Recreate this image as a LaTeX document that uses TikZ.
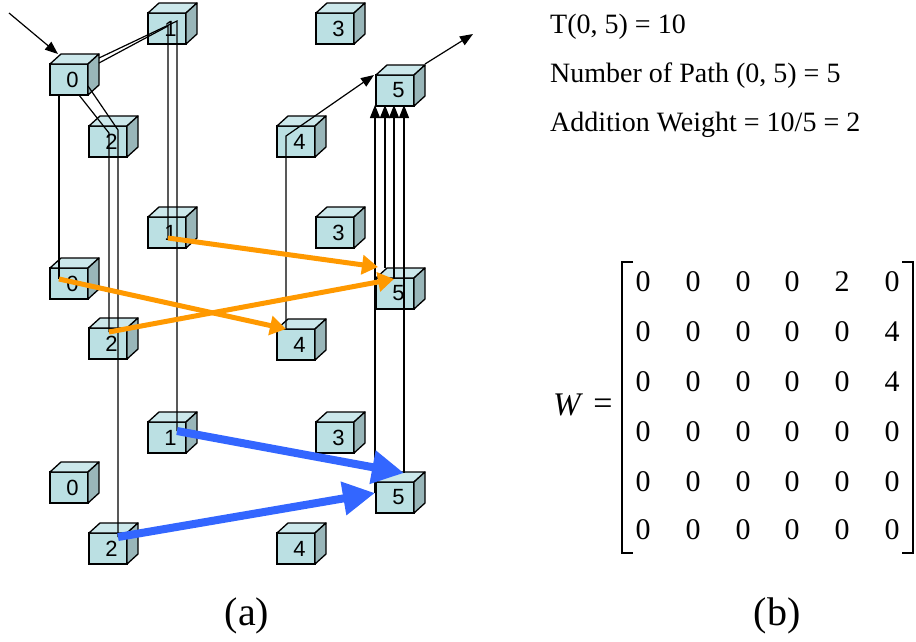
\documentclass[tikz,border=0pt]{standalone}
\usepackage{fontspec}
\setmainfont{Liberation Serif}
\newfontfamily\timesface{Liberation Serif}
\newfontfamily\cubefont{Liberation Sans}
\usetikzlibrary{arrows.meta}
\definecolor{cubefront}{HTML}{BBE0E3}
\definecolor{cubetop}{HTML}{CCE8EB}
\definecolor{cubeside}{HTML}{99B6B9}
\definecolor{flowA}{HTML}{FF9900}
\definecolor{flowB}{HTML}{3366FF}

\begin{document}
\begin{tikzpicture}[x=1pt,y=-1pt,
  cube/.style={draw=black, line width=1.3pt, fill=cubefront, minimum width=38pt,
    minimum height=31pt, inner sep=0pt, outer sep=0pt,
    font=\cubefont\fontsize{22}{22}\selectfont},
  face/.style={draw=black, line width=1.3pt, line join=round},
  wire/.style={draw=black, line width=1.2pt, line join=miter},
  wirearrow/.style={wire, -{Triangle[length=13pt,width=10pt]}},
  flowa/.style={draw=flowA, line width=5pt, -{Triangle[length=16pt,width=19pt]}},
  flowb/.style={draw=flowB, line width=8pt, -{Triangle[length=32pt,width=32pt]}},
  txt/.style={font=\timesface\fontsize{28}{32}\selectfont, anchor=base west, inner sep=0pt},
  entry/.style={font=\timesface\fontsize{30}{30}\selectfont, inner sep=0pt, anchor=center},
  captext/.style={font=\timesface\fontsize{40}{40}\selectfont, inner sep=0pt, anchor=base},
]
\path[use as bounding box] (0,0) rectangle (916,641);

% ---------- (a) three time layers of cubes ----------
\node[cube] (a0) at (69,79.5)  {\hspace*{7pt}0};
\node[cube] (a1) at (167,28.5) {\hspace*{7pt}1};
\node[cube] (a2) at (108,141.5){\hspace*{7pt}2};
\node[cube] (a3) at (335,28.5) {\hspace*{7pt}3};
\node[cube] (a4) at (296,141.5){\hspace*{7pt}4};
\node[cube] (a5) at (395,90.5) {\hspace*{7pt}5};

\node[cube] (b0) at (69,283.5) {\hspace*{7pt}0};
\node[cube] (b1) at (167,232.5){\hspace*{7pt}1};
\node[cube] (b2) at (108,343.5){\hspace*{7pt}2};
\node[cube] (b3) at (335,232.5){\hspace*{7pt}3};
\node[cube] (b4) at (296,344.5){\hspace*{7pt}4};
\node[cube] (b5) at (395,293.5){\hspace*{7pt}5};

\node[cube] (c0) at (69,487.5) {\hspace*{7pt}0};
\node[cube] (c1) at (167,437.5){\hspace*{7pt}1};
\node[cube] (c2) at (108,548.5){\hspace*{7pt}2};
\node[cube] (c3) at (335,437.5){\hspace*{7pt}3};
\node[cube] (c4) at (296,548.5){\hspace*{7pt}4};
\node[cube] (c5) at (395,497.5){\hspace*{7pt}5};

% top and side faces of every cube
\foreach \n in {a0,a1,a2,a3,a4,a5,b0,b1,b2,b3,b4,b5,c0,c1,c2,c3,c4,c5}{
  \draw[face, fill=cubetop] (\n.north west) -- ++(11,-10) -- ++(38,0) -- (\n.north east) -- cycle;
  \draw[face, fill=cubeside] (\n.north east) -- ++(11,-10) -- ++(0,31) -- (\n.south east) -- cycle;
}

% ---------- waypoints of the paths ----------
\coordinate (src)  at (9,13);    \coordinate (a0in) at (58,54);
\coordinate (a0r1) at (99,58);   \coordinate (a1k1) at (177,21);  \coordinate (c1s) at (177,431);
\coordinate (a0r2) at (99,63);   \coordinate (a1k2) at (168,26);  \coordinate (b1s) at (168,238);
\coordinate (a0d1) at (79,95);   \coordinate (a2k1) at (109,133); \coordinate (b2s) at (109,332);
\coordinate (a0d2) at (88,86);   \coordinate (a2k2) at (118,130); \coordinate (c2s) at (118,537);
\coordinate (a0b)  at (59,95);   \coordinate (b0s)  at (59,279);
\coordinate (b4t)  at (286,329); \coordinate (a4k)  at (286,136); \coordinate (a5in) at (374,75);
\coordinate (a5o)  at (425,64);  \coordinate (sink) at (473,34);
\coordinate (b5t1) at (385,268); \coordinate (b5t2) at (394,279);
\coordinate (c5t1) at (404,473); \coordinate (c5t2) at (375,493);
\coordinate (b5in) at (378,267);
\coordinate (a5b1) at (375,105); \coordinate (a5b2) at (385,105);
\coordinate (a5b3) at (394,105); \coordinate (a5b4) at (404,105);

% thin black connections
\draw[wirearrow] (src) -- (a0in);
\draw[wire] (a0r1) -- (a1k1) -- (c1s);
\draw[wire] (a0r2) -- (a1k2) -- (b1s);
\draw[wire] (a0d1) -- (a2k1) -- (b2s);
\draw[wire] (a0d2) -- (a2k2) -- (c2s);
\draw[wire] (a0b) -- (b0s);
\draw[wirearrow] (b4t) -- (a4k) -- (a5in);
\draw[wirearrow] (a5o) -- (sink);
\draw[wirearrow] (c5t2) -- (a5b1);
\draw[wirearrow] (b5t1) -- (a5b2);
\draw[wirearrow] (b5t2) -- (a5b3);
\draw[wirearrow] (c5t1) -- (a5b4);

% heavy flows
\draw[flowa] (b1s) -- (b5in);
\draw[flowa] (b0s) -- (b4t);
\draw[flowa] (b2s) -- (b5t2);
\draw[flowb] (c1s) -- (c5t1);
\draw[flowb] (c2s) -- (c5t2);

% ---------- (b) weights ----------
\node[txt] (t1) at (550,33)  {T(0, 5) = 10};
\node[txt] (t2) at (550,82)  {Number of Path (0, 5) = 5};
\node[txt] (t3) at (550,131) {Addition Weight = 10/5 = 2};

\node[font=\timesface\fontsize{33}{33}\selectfont\itshape, inner sep=0pt, anchor=base west] (W) at (553,415) {W};
\node[font=\timesface\fontsize{34}{34}\selectfont, inner sep=0pt] (eq) at (603,407) {=};

\draw[line width=1.4pt] (633,262) -- (622,262) -- (622,553) -- (633,553);
\draw[line width=1.4pt] (902,262) -- (913,262) -- (913,553) -- (902,553);

\foreach \x/\v [count=\j] in {643/0,693/0,743/0,792/0,842/2,892/0}{\node[entry] (m1\j) at (\x,282) {\v};}
\foreach \x/\v [count=\j] in {643/0,693/0,743/0,792/0,842/0,892/4}{\node[entry] (m2\j) at (\x,332) {\v};}
\foreach \x/\v [count=\j] in {643/0,693/0,743/0,792/0,842/0,892/4}{\node[entry] (m3\j) at (\x,382) {\v};}
\foreach \x/\v [count=\j] in {643/0,693/0,743/0,792/0,842/0,892/0}{\node[entry] (m4\j) at (\x,432) {\v};}
\foreach \x/\v [count=\j] in {643/0,693/0,743/0,792/0,842/0,892/0}{\node[entry] (m5\j) at (\x,482) {\v};}
\foreach \x/\v [count=\j] in {643/0,693/0,743/0,792/0,842/0,892/0}{\node[entry] (m6\j) at (\x,530) {\v};}

% captions
\node[captext] (capa) at (247,625) {(a)};
\node[captext] (capb) at (777,625) {(b)};
\end{tikzpicture}
\end{document}
